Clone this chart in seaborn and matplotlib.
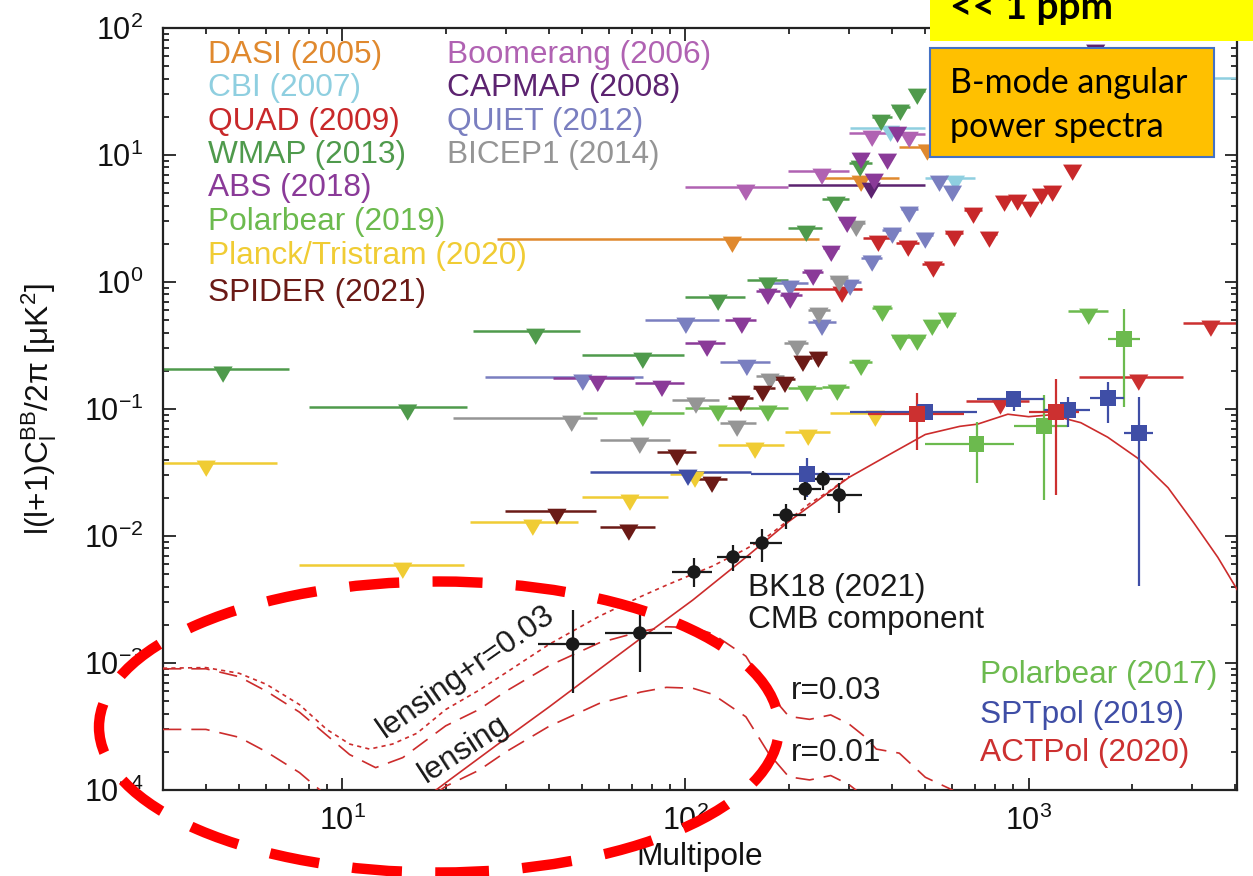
import matplotlib
matplotlib.use("Agg")
import matplotlib.pyplot as plt
import seaborn as sns
import pandas as pd
from matplotlib.patches import Ellipse, Rectangle
from matplotlib.markers import MarkerStyle
from matplotlib.path import Path
from matplotlib.ticker import LogLocator, NullFormatter

# ---------------------------------------------------------------- data
# upper limits: bin centre, bin low, bin high, upper limit [muK^2]
wmap_ell = [4.49, 15.5, 36.6, 75.1, 124.5, 174, 225, 275, 323, 372, 423, 474]
wmap_lo = [2.98, 8.01, 24.0, 49.9, 99.7, 151, 199, 250, 300, 350, 400, 450]
wmap_hi = [7.00, 23.0, 49.2, 99.0, 149, 199, 250, 300, 350, 400, 450, 500]
wmap_lim = [0.207, 0.104, 0.411, 0.266, 0.762, 1.04, 2.66, 4.50, 8.65, 19.9, 23.9, 31.9]

pb19_ell = [75.1, 124.5, 174, 226, 277, 325, 375, 423, 474, 524, 580, 1497]
pb19_lo = [50.2, 99.7, 149, 199, 250, 300, 350, 400, 450, 500, 550, 1300]
pb19_hi = [99.0, 149, 199, 250, 300, 350, 400, 450, 500, 550, 610, 1700]
pb19_lim = [0.093, 0.102, 0.102, 0.146, 0.149, 0.234, 0.624, 0.369, 0.369, 0.484, 0.550, 0.591]

planck_ell = [4.01, 15.0, 35.9, 68.9, 106.6, 159.5, 227.9, 357.6]
planck_lo = [2.98, 7.49, 23.5, 49.9, 90.1, 124.5, 195, 264]
planck_hi = [6.46, 22.6, 48.6, 88.9, 112.5, 193.9, 264, 377]
planck_lim = [0.0376, 0.00591, 0.0129, 0.0203, 0.0308, 0.0521, 0.0659, 0.0930]

spider_ell = [42.2, 68.4, 94.5, 119.5, 145, 168, 195, 220, 244]
spider_lo = [29.7, 56.3, 82.6, 108, 133, 157, 182, 208, 233]
spider_hi = [54.8, 81.5, 107.3, 132, 157, 182, 208, 233, 258]
spider_lim = [0.0157, 0.0118, 0.0459, 0.0281, 0.122, 0.146, 0.172, 0.252, 0.271]

bicep1_ell = [46.6, 73.6, 107.3, 141.4, 176.5, 211.6, 245, 280.6, 314.6]
bicep1_lo = [21.0, 56.3, 91.3, 126, 160, 194, 228, 263, 298]
bicep1_hi = [55.2, 90.1, 125.3, 160, 194, 228, 263, 298, 333]
bicep1_lim = [0.0849, 0.0570, 0.118, 0.0776, 0.182, 0.331, 0.602, 1.075, 2.91]

abs_ell = [55.5, 85.4, 115.6, 146, 174, 202, 235.6, 266, 296, 325, 355, 388, 415]
abs_lo = [41.0, 71.2, 100, 130, 160, 188, 218, 252, 281, 311, 340, 370, 400]
abs_hi = [70.7, 99.0, 130, 160, 188, 218, 252, 281, 311, 340, 370, 400, 430]
abs_lim = [0.175, 0.160, 0.331, 0.502, 0.849, 0.790, 1.20, 1.85, 3.13, 10.0, 6.83, 9.82, 16.0]

boom_ell = [150, 250, 350, 449]
boom_lo = [100, 199, 300, 400]
boom_hi = [199, 300, 400, 500]
boom_lim = [5.60, 7.48, 14.9, 14.6]

capmap_ell = [348, 1569]
capmap_lo = [199, 1500]
capmap_hi = [500, 1640]
capmap_lim = [5.80, 70.9]

quiet_ell = [50.2, 100.3, 151, 202, 250, 302, 350, 401, 449, 500, 550, 600]
quiet_lo = [26.0, 76.2, 126, 176, 228, 275, 325, 375, 425, 475, 525, 575]
quiet_hi = [75.1, 125.3, 176, 228, 275, 325, 375, 425, 475, 525, 575, 625]
quiet_lim = [0.179, 0.502, 0.234, 0.983, 0.484, 1.0, 1.55, 2.57, 3.76, 2.35, 6.59, 5.50]

quad_ell = [286, 365, 446, 528, 608, 691, 769, 851, 929, 1013, 1091, 1175, 1344]
quad_lo = [200, 330, 410, 490, 570, 650, 730, 810, 890, 970, 1050, 1130, 1290]
quad_hi = [328, 400, 480, 565, 645, 730, 810, 890, 970, 1050, 1130, 1215, 1400]
quad_lim = [0.881, 2.22, 2.03, 1.39, 2.43, 3.69, 2.39, 4.59, 4.67, 4.11, 5.21, 5.50, 8.05]

cbi_ell = [396, 612, 3000]
cbi_lo = [301, 500, 2600]
cbi_hi = [500, 700, 4500]
cbi_lim = [16.3, 6.59, 40.4]

dasi_ell = [137, 325, 507]
dasi_lo = [28.2, 245, 420]
dasi_hi = [245, 420, 640]
dasi_lim = [2.18, 6.59, 11.6]

sptlim_ell = [101.7]
sptlim_lo = [52.6]
sptlim_hi = [155]
sptlim_lim = [0.0319]

actlim_ell = [828, 2095, 3400]
actlim_lo = [655, 1400, 2815]
actlim_hi = [1000, 2815, 4022]
actlim_lim = [0.116, 0.179, 0.476]

# detections: centre, bin low, bin high, value, lower error end, upper error end
spt_ell = [226, 500, 904, 1300, 1701, 2095]
spt_lo = [155, 302, 705, 1106, 1507, 1894]
spt_hi = [302, 705, 1106, 1507, 1894, 2301]
spt_val = [0.0308, 0.0947, 0.120, 0.0982, 0.122, 0.0647]
spt_elo = [0.0203, 0.087, 0.0966, 0.0722, 0.0776, 0.00404]
spt_ehi = [0.0411, 0.101, 0.134, 0.124, 0.163, 0.124]

pb17_ell = [705, 1106, 1894]
pb17_lo = [500, 904, 1701]
pb17_hi = [904, 1300, 2109]
pb17_val = [0.0530, 0.0735, 0.356]
pb17_elo = [0.0261, 0.0192, 0.1037]
pb17_ehi = [0.0790, 0.129, 0.613]

act_ell = [474, 1199]
act_lo = [341, 1000]
act_hi = [650, 1400]
act_val = [0.0913, 0.0947]
act_elo = [0.0475, 0.0210]
act_ehi = [0.134, 0.171]

bk_ell = [46.9, 73.6, 105.9, 137.6, 167.2, 196.5, 223.3, 252, 280.6]
bk_lo = [37.1, 58.2, 91.3, 123.6, 154.3, 180.1, 206, 234, 258.9]
bk_hi = [54.4, 91.3, 119.5, 155.3, 191.3, 224.8, 248.6, 288.3, 327.6]
bk_val = [0.00141, 0.00172, 0.00521, 0.00684, 0.00881, 0.0146, 0.0234, 0.0281, 0.0210]
bk_elo = [0.00058, 0.000849, 0.00397, 0.0053, 0.00624, 0.01135, 0.0192, 0.023, 0.0152]
bk_ehi = [0.00261, 0.00286, 0.00671, 0.0085, 0.01135, 0.0179, 0.0291, 0.0325, 0.0261]

# theory curves
lens_ell = [17, 20, 25, 30, 40, 56, 74, 105, 150, 200, 300, 400, 500, 630, 710, 870,
            1000, 1160, 1420, 1700, 2080, 2550, 3030, 3560, 4100]
lens_D = [8.2e-5, 1.14e-4, 1.78e-4, 2.56e-4, 4.5e-4, 8.9e-4, 1.56e-3, 3.13e-3, 6.8e-3,
          1.3e-2, 2.9e-2, 4.5e-2, 6.3e-2, 7.3e-2, 7.6e-2, 9.1e-2, 8.7e-2, 9.0e-2, 7.8e-2,
          6.0e-2, 4.1e-2, 2.4e-2, 1.27e-2, 6.8e-3, 3.6e-3]

tot_ell = [3, 4, 5, 6, 7.5, 9, 10.5, 12, 14, 16.5, 20, 25, 30, 40, 56, 74, 88, 105, 120,
           150, 175, 200, 230, 265, 300]
tot_D = [9.1e-4, 9.2e-4, 8.3e-4, 6.8e-4, 4.7e-4, 3.0e-4, 2.3e-4, 2.1e-4, 2.3e-4, 2.8e-4,
         4.3e-4, 6.1e-4, 8.4e-4, 1.4e-3, 2.33e-3, 3.33e-3, 4.1e-3, 5.0e-3, 5.8e-3, 7.9e-3,
         1.01e-2, 1.34e-2, 1.8e-2, 2.3e-2, 2.95e-2]

r03_ell = [3, 4, 5, 6, 7.5, 9, 10.5, 12.5, 15, 20, 25, 30, 40, 56, 74, 88, 105, 120, 150,
           175, 200, 230, 265, 300, 335, 360, 420, 500, 600, 650]
r03_D = [9.0e-4, 9.0e-4, 7.8e-4, 6.0e-4, 4.1e-4, 2.7e-4, 1.9e-4, 1.5e-4, 1.8e-4, 3.2e-4,
         4.3e-4, 6.0e-4, 9.5e-4, 1.44e-3, 1.77e-3, 1.93e-3, 1.9e-3, 1.7e-3, 1.13e-3, 5.8e-4,
         3.8e-4, 3.6e-4, 3.9e-4, 3.3e-4, 2.6e-4, 2.1e-4, 1.95e-4, 1.26e-4, 1.0e-4, 8e-5]

r01_ell = [3, 4, 5, 6, 7.5, 9, 10.5, 12.5, 15, 20, 25, 30, 40, 56, 74, 88, 105, 120, 150,
           175, 200, 230, 265, 300, 335, 360]
r01_D = [3.0e-4, 3.0e-4, 2.6e-4, 2.0e-4, 1.37e-4, 9.0e-5, 6.3e-5, 5.0e-5, 6.0e-5, 1.07e-4,
         1.43e-4, 2.0e-4, 3.17e-4, 4.8e-4, 5.9e-4, 6.43e-4, 6.33e-4, 5.67e-4, 3.77e-4,
         1.93e-4, 1.27e-4, 1.2e-4, 1.3e-4, 1.1e-4, 8.7e-5, 7e-5]

legend_left = ["DASI (2005)", "CBI (2007)", "QUAD (2009)", "WMAP (2013)", "ABS (2018)",
               "Polarbear (2019)", "Planck/Tristram (2020)", "SPIDER (2021)"]
legend_mid = ["Boomerang (2006)", "CAPMAP (2008)", "QUIET (2012)", "BICEP1 (2014)"]
legend_right = ["Polarbear (2017)", "SPTpol (2019)", "ACTPol (2020)"]

# ---------------------------------------------------------------- style
C = {
    "DASI": "#e0892e", "CBI": "#8fcfe0", "QUAD": "#c8282a", "WMAP": "#4f9a4c",
    "ABS": "#8a3a98", "PB": "#6cba4e", "Planck": "#f0cc34", "SPIDER": "#6b1a16",
    "Boom": "#b062b2", "CAPMAP": "#5c2370", "QUIET": "#7a7fc0", "BICEP1": "#959595",
    "SPT": "#3f4ea6", "ACT": "#cc3030", "BK": "#1a1a1a", "th": "#cc2c2c",
}

sns.set_theme(style="ticks")
plt.rcParams['font.family'] = ['Liberation Sans', 'DejaVu Sans']
plt.rcParams['mathtext.fontset'] = 'custom'
plt.rcParams['mathtext.rm'] = 'Liberation Sans'
plt.rcParams['mathtext.it'] = 'Liberation Sans:italic'
plt.rcParams['mathtext.bf'] = 'Liberation Sans:bold'

FS = 22.8
W, H = 1253, 876
fig = plt.figure(figsize=(W / 100, H / 100), dpi=100)
ax = fig.add_axes([163 / W, 1 - 790 / H, (1237 - 163) / W, (790 - 28) / H])
ax.set_xscale("log")
ax.set_yscale("log")
ax.set_xlim(3.0, 4050)
ax.set_ylim(1e-4, 1e2)

tri = MarkerStyle(Path([(-1.0, 0.25), (1.0, 0.25), (0.0, -1.45), (-1.0, 0.25)],
                       [Path.MOVETO, Path.LINETO, Path.LINETO, Path.CLOSEPOLY]))


def upper(ell, lo, hi, lim, color):
    ax.hlines(lim, lo, hi, colors=color, lw=1.8, zorder=2)
    df = pd.DataFrame({"ell": ell, "lim": lim})
    sns.scatterplot(data=df, x="ell", y="lim", ax=ax, marker=tri, s=400, color=color,
                    edgecolor="none", linewidth=0, zorder=3, legend=False)


def detect(ell, lo, hi, val, elo, ehi, color, marker, size):
    xe = [[e - l for e, l in zip(ell, lo)], [h - e for e, h in zip(ell, hi)]]
    ye = [[v - l for v, l in zip(val, elo)], [h - v for v, h in zip(val, ehi)]]
    ax.errorbar(ell, val, xerr=xe, yerr=ye, fmt="none", ecolor=color, elinewidth=1.6,
                capsize=0, zorder=4)
    df = pd.DataFrame({"ell": ell, "val": val})
    sns.scatterplot(data=df, x="ell", y="val", ax=ax, marker=marker, s=size, color=color,
                    edgecolor="none", linewidth=0, zorder=5, legend=False)


upper(dasi_ell, dasi_lo, dasi_hi, dasi_lim, C["DASI"])
upper(boom_ell, boom_lo, boom_hi, boom_lim, C["Boom"])
upper(cbi_ell, cbi_lo, cbi_hi, cbi_lim, C["CBI"])
upper(capmap_ell, capmap_lo, capmap_hi, capmap_lim, C["CAPMAP"])
upper(quad_ell, quad_lo, quad_hi, quad_lim, C["QUAD"])
upper(quiet_ell, quiet_lo, quiet_hi, quiet_lim, C["QUIET"])
upper(wmap_ell, wmap_lo, wmap_hi, wmap_lim, C["WMAP"])
upper(bicep1_ell, bicep1_lo, bicep1_hi, bicep1_lim, C["BICEP1"])
upper(abs_ell, abs_lo, abs_hi, abs_lim, C["ABS"])
upper(pb19_ell, pb19_lo, pb19_hi, pb19_lim, C["PB"])
upper(planck_ell, planck_lo, planck_hi, planck_lim, C["Planck"])
upper(spider_ell, spider_lo, spider_hi, spider_lim, C["SPIDER"])
upper(sptlim_ell, sptlim_lo, sptlim_hi, sptlim_lim, C["SPT"])
upper(actlim_ell, actlim_lo, actlim_hi, actlim_lim, C["ACT"])

# theory curves
sns.lineplot(x=lens_ell, y=lens_D, ax=ax, color=C["th"], lw=1.2, sort=False, estimator=None, zorder=3)
sns.lineplot(x=tot_ell, y=tot_D, ax=ax, color=C["th"], lw=1.2, linestyle=(0, (2.5, 2.5)),
             sort=False, estimator=None, zorder=3)
sns.lineplot(x=r03_ell, y=r03_D, ax=ax, color=C["th"], lw=1.2, linestyle=(0, (11, 6)),
             sort=False, estimator=None, zorder=3)
sns.lineplot(x=r01_ell, y=r01_D, ax=ax, color=C["th"], lw=1.2, linestyle=(0, (11, 6)),
             sort=False, estimator=None, zorder=3)

detect(pb17_ell, pb17_lo, pb17_hi, pb17_val, pb17_elo, pb17_ehi, C["PB"], "s", 130)
detect(spt_ell, spt_lo, spt_hi, spt_val, spt_elo, spt_ehi, C["SPT"], "s", 130)
detect(act_ell, act_lo, act_hi, act_val, act_elo, act_ehi, C["ACT"], "s", 130)
detect(bk_ell, bk_lo, bk_hi, bk_val, bk_elo, bk_ehi, C["BK"], "o", 95)

# axes styling
for sp in ax.spines.values():
    sp.set_linewidth(1.6)
    sp.set_color("#222222")
ax.xaxis.set_major_locator(LogLocator(base=10, numticks=12))
ax.yaxis.set_major_locator(LogLocator(base=10, numticks=12))
ax.xaxis.set_minor_locator(LogLocator(base=10, subs=range(2, 10), numticks=100))
ax.yaxis.set_minor_locator(LogLocator(base=10, subs=range(2, 10), numticks=100))
ax.xaxis.set_minor_formatter(NullFormatter())
ax.yaxis.set_minor_formatter(NullFormatter())
ax.tick_params(which="both", direction="in", top=True, right=True, width=1.3,
               colors="#222222", labelcolor="#111111")
ax.tick_params(which="major", length=9, labelsize=22)
ax.tick_params(which="minor", length=4.5)
ax.tick_params(axis="y", which="major", pad=14)
ax.tick_params(axis="x", which="major", pad=11)

ax.set_xlabel("Multipole", fontsize=FS, color="#111111")
ax.set_ylabel(r"l(l+1)C$_\mathrm{l}^\mathrm{BB}$/2π [μK$^2$]", fontsize=FS, color="#111111")
ax.xaxis.set_label_coords(0.5, -0.068)
ax.yaxis.set_label_coords(-0.097, 0.5)

# legends as coloured text
left_cols = [C["DASI"], C["CBI"], C["QUAD"], C["WMAP"], C["ABS"], C["PB"], C["Planck"], C["SPIDER"]]
mid_cols = [C["Boom"], C["CAPMAP"], C["QUIET"], C["BICEP1"]]
right_cols = [C["PB"], C["SPT"], C["ACT"]]
rows_y = [0.9646, 0.9213, 0.8766, 0.8333, 0.7900, 0.7454, 0.7008, 0.6522]
for t, c, yy in zip(legend_left, left_cols, rows_y):
    ax.text(0.0419, yy, t, color=c, fontsize=FS, ha="left", va="center", transform=ax.transAxes)
for t, c, yy in zip(legend_mid, mid_cols, rows_y):
    ax.text(0.2644, yy, t, color=c, fontsize=FS, ha="left", va="center", transform=ax.transAxes)
for t, c, yy in zip(legend_right, right_cols, [0.1509, 0.0984, 0.0486]):
    ax.text(0.7607, yy, t, color=c, fontsize=FS, ha="left", va="center", transform=ax.transAxes)

ax.text(0.5447, 0.2651, "BK18 (2021)", color="#1a1a1a", fontsize=FS, ha="left", va="center",
        transform=ax.transAxes)
ax.text(0.5447, 0.2231, "CMB component", color="#1a1a1a", fontsize=FS, ha="left", va="center",
        transform=ax.transAxes)
ax.text(0.585, 0.130, "r=0.03", color="#1a1a1a", fontsize=FS, ha="left", va="center",
        transform=ax.transAxes)
ax.text(0.585, 0.049, "r=0.01", color="#1a1a1a", fontsize=FS, ha="left", va="center",
        transform=ax.transAxes)
ax.text(22.9, 8.5e-4, "lensing+r=0.03", color="#1a1a1a", fontsize=FS, ha="center",
        va="center", rotation=35, rotation_mode="anchor")
ax.text(22.6, 2.1e-4, "lensing", color="#1a1a1a", fontsize=FS, ha="center", va="center",
        rotation=33, rotation_mode="anchor")

# overlays (slide annotations)
fig.add_artist(Rectangle((930 / W, 1 - 41 / H), 1 - 930 / W, 41 / H, transform=fig.transFigure,
                         facecolor="#ffff00", edgecolor="none", zorder=10))
fig.text(950 / W, 1 - 19 / H, "<< 1 ppm", fontsize=28, fontweight="bold", family="Lato",
         color="black", ha="left", va="baseline", zorder=11)
fig.add_artist(Rectangle((930 / W, 1 - 157 / H), (1214 - 930) / W, (157 - 48) / H,
                         transform=fig.transFigure, facecolor="#ffc000", edgecolor="#4472c4",
                         lw=1.5, zorder=10))
fig.text(950 / W, 1 - 93 / H, "B-mode angular", fontsize=24.5, family="Lato", color="black",
         ha="left", va="baseline", zorder=11)
fig.text(950 / W, 1 - 137 / H, "power spectra", fontsize=24.5, family="Lato", color="black",
         ha="left", va="baseline", zorder=11)
fig.add_artist(Ellipse((439 / W, 1 - 727 / H), 680 / W, 291 / H, transform=fig.transFigure,
                       fill=False, edgecolor="#ff0000", lw=7.5, linestyle=(0, (4.8, 3.2)), zorder=10))

fig.savefig("out.png", dpi=100)
